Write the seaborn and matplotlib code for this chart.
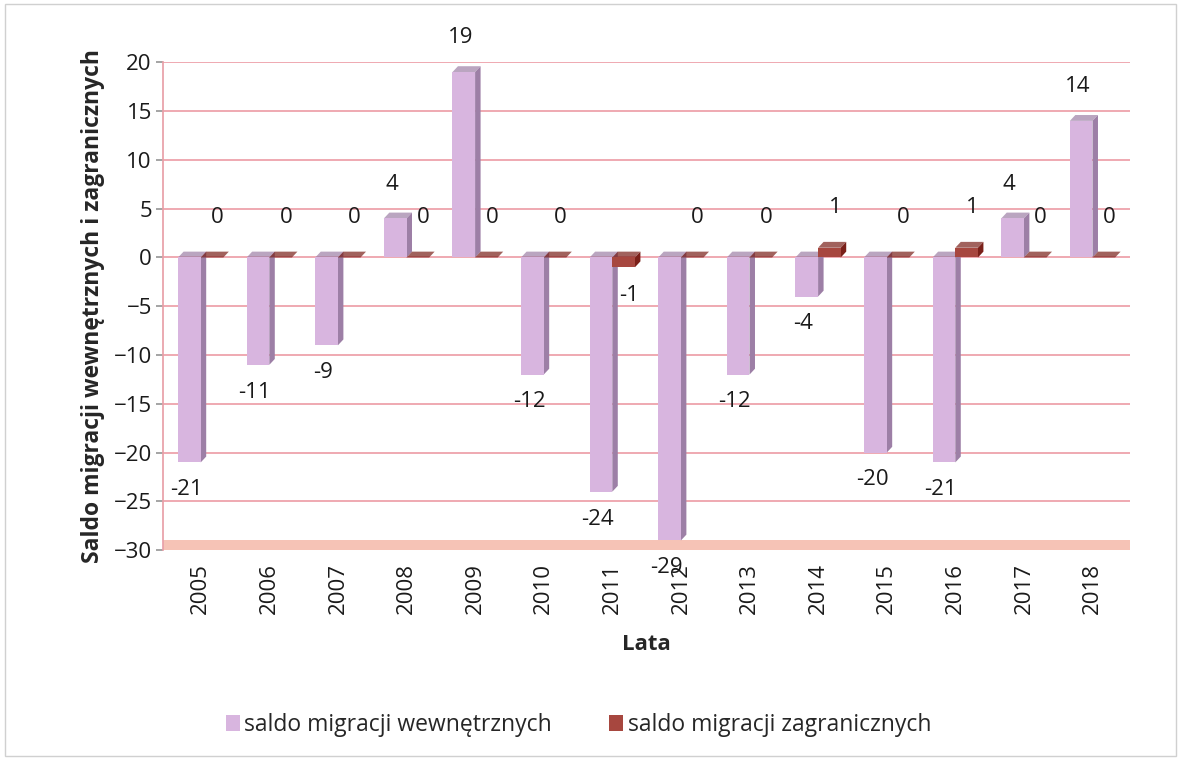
import pandas as pd
import matplotlib.pyplot as plt
import seaborn as sns
from matplotlib.patches import Polygon, Rectangle

# Dane
lata = ["2005", "2006", "2007", "2008", "2009", "2010", "2011",
        "2012", "2013", "2014", "2015", "2016", "2017", "2018"]
saldo_wewn = [-21, -11, -9, 4, 19, -12, -24, -29, -12, -4, -20, -21, 4, 14]
saldo_zagr = [0, 0, 0, 0, 0, 0, -1, 0, 0, 1, 0, 1, 0, 0]

s_wewn = "saldo migracji wewnętrznych"
s_zagr = "saldo migracji zagranicznych"

df = pd.DataFrame({
    "rok": lata * 2,
    "saldo": saldo_wewn + saldo_zagr,
    "seria": [s_wewn] * len(lata) + [s_zagr] * len(lata),
})

sns.set_theme(style="white")
plt.rcParams['font.family'] = ['Open Sans', 'DejaVu Sans']

kolory = {s_wewn: "#dcaee6", s_zagr: "#b8382e"}
boki = {s_wewn: "#9d7fa6", s_zagr: "#7a2019"}

fig = plt.figure(figsize=(11.81, 7.6), dpi=100)
ax = fig.add_axes([0.138, 0.276, 0.819, 0.642])

# Siatka
for y in range(-30, 21, 5):
    ax.axhline(y, color="#eea3ab", lw=1.3, zorder=0)
ax.axhspan(-30, -29, color="#f6c3b6", zorder=0.5, lw=0)

sns.barplot(data=df, x="rok", y="saldo", hue="seria", palette=kolory,
            width=0.66, ax=ax, zorder=2, legend=True, linewidth=0, edgecolor="none")

# Efekt 3D - boczna sciana slupkow
depth = 0.08
for cont, seria in zip(ax.containers, [s_wewn, s_zagr]):
    for p in cont:
        x0 = p.get_x()
        w = p.get_width()
        h = p.get_height()
        y0 = p.get_y()
        x1 = x0 + w
        dy = 0.6
        side = Polygon([[x1, y0], [x1 + depth, y0 + dy], [x1 + depth, y0 + h + dy], [x1, y0 + h]],
                       closed=True, facecolor=boki[seria], edgecolor="none", zorder=1.9)
        ax.add_patch(side)
        top_y = max(y0, y0 + h)
        top = Polygon([[x0, top_y], [x0 + depth, top_y + dy], [x1 + depth, top_y + dy], [x1, top_y]],
                      closed=True, facecolor=boki[seria], edgecolor="none", alpha=0.7, zorder=1.9)
        ax.add_patch(top)

# Etykiety danych
for cont, vals, seria in zip(ax.containers, [saldo_wewn, saldo_zagr], [s_wewn, s_zagr]):
    for p, v in zip(cont, vals):
        xc = p.get_x() + p.get_width() / 2
        if seria == s_wewn:
            yl = v + 3.5 if v > 0 else v - 2.8
            xc -= 0.05
        else:
            yl = v + 4.1 if v >= 0 else v - 2.9
            xc += 0.08
        ax.text(xc, yl, str(v), ha="center", va="center", fontsize=16,
                color="#1a1a1a", clip_on=False, zorder=5)

ax.set_ylim(-30, 20)
ax.set_xlim(-0.55, len(lata) - 0.45)
ax.set_yticks(range(-30, 21, 5))
ax.tick_params(axis="y", labelsize=16, colors="#1a1a1a", left=True, length=5, color="#999999", pad=3)
ax.tick_params(axis="x", labelsize=16, colors="#1a1a1a", rotation=90)
for sp in ["top", "right", "bottom"]:
    ax.spines[sp].set_visible(False)
ax.spines["left"].set_color("#e8a0a8")

ax.set_xlabel("Lata", fontsize=16, fontweight="bold", labelpad=14)
ax.set_ylabel("Saldo migracji wewnętrznych i zagranicznych", fontsize=16.5, fontweight="bold", labelpad=6)

handles, labels = ax.get_legend_handles_labels()
ax.get_legend().remove()
fig.legend(handles, labels, loc="center", bbox_to_anchor=(0.49, 0.046), ncol=2, frameon=False,
           fontsize=16.5, handlelength=0.6, handleheight=0.7, handletextpad=0.2, columnspacing=2.5)

fig.patches.append(Rectangle((0.004, 0.005), 0.992, 0.99, transform=fig.transFigure,
                             fill=False, edgecolor="#d0d0d0", lw=1))

fig.savefig("out.png", dpi=100)
